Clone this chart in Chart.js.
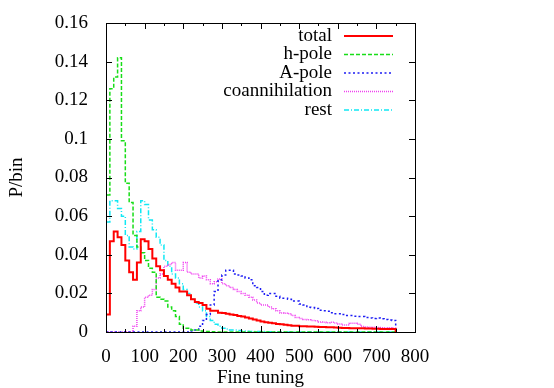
<!DOCTYPE html>
<html>
<head>
<meta charset="utf-8">
<script src="https://cdn.jsdelivr.net/npm/chart.js@4"></script>
<style>
  body { margin: 0; background: #fff; }
  canvas { display: block; }
</style>
</head>
<body>
<canvas id="chart" width="554" height="388"></canvas>
<script>
// Histogram bins: 10 units wide, starting at 0 (75 bins up to 750)
const BIN_WIDTH = 10;

const seriesLabels = ["total", "h-pole", "A-pole", "coannihilation", "rest"];

// P/bin values, one per bin
const total = [
  0.009, 0.047, 0.052, 0.049, 0.045, 0.037, 0.031, 0.027, 0.036, 0.048, 0.047, 0.043, 0.038, 0.034, 0.032,
  0.029, 0.027, 0.025, 0.023, 0.021, 0.021, 0.019, 0.017, 0.0155, 0.015, 0.014, 0.012, 0.011, 0.011, 0.010,
  0.0098, 0.0095, 0.009, 0.0088, 0.0083, 0.008, 0.0075, 0.007, 0.0065, 0.006, 0.0055, 0.005, 0.0048, 0.0045, 0.0042,
  0.004, 0.0038, 0.0035, 0.0033, 0.0032, 0.003, 0.003, 0.0029, 0.0028, 0.0027, 0.0026, 0.0026, 0.0025, 0.0024, 0.0023,
  0.0022, 0.0021, 0.0021, 0.002, 0.002, 0.0019, 0.0019, 0.0018, 0.0018, 0.0017, 0.0017, 0.0016, 0.0016, 0.0016, 0.0015
];
const hPole = [
  0.071, 0.126, 0.132, 0.142, 0.099, 0.077, 0.067, 0.050, 0.044, 0.041, 0.037, 0.033, 0.031, 0.018, 0.017,
  0.016, 0.013, 0.011, 0.008, 0.004, 0.002, 0.002, 0.001, 0.001, 0.0005, 0.0003, 0.0002, 0.0001, 0, 0,
  0, 0, 0, 0, 0, 0, 0, 0, 0, 0, 0, 0, 0, 0, 0,
  0, 0, 0, 0, 0, 0, 0, 0, 0, 0, 0, 0, 0, 0, 0,
  0, 0, 0, 0, 0, 0, 0, 0, 0, 0, 0, 0, 0, 0, 0
];
const aPole = [
  0, 0, 0, 0, 0, 0, 0, 0, 0, 0, 0, 0, 0, 0, 0,
  0, 0, 0, 0, 0, 0, 0, 0.0005, 0.001, 0.003, 0.006, 0.009, 0.014, 0.021, 0.027,
  0.0295, 0.032, 0.032, 0.030, 0.0295, 0.029, 0.028, 0.027, 0.024, 0.023, 0.021, 0.019, 0.020, 0.020, 0.0185,
  0.0175, 0.0175, 0.017, 0.016, 0.016, 0.0145, 0.014, 0.0128, 0.0127, 0.0122, 0.0112, 0.011, 0.0108, 0.010, 0.0095,
  0.0095, 0.009, 0.0085, 0.0085, 0.0082, 0.008, 0.008, 0.0075, 0.0073, 0.007, 0.0072, 0.0068, 0.0065, 0.0062, 0.006
];
const coannihilation = [
  0, 0, 0, 0, 0, 0, 0, 0.003, 0.011, 0.013, 0.018, 0.019, 0.022, 0.028, 0.030,
  0.034, 0.035, 0.036, 0.032, 0.032, 0.036, 0.031, 0.030, 0.030, 0.028, 0.029, 0.027, 0.025, 0.026, 0.0275,
  0.025, 0.024, 0.023, 0.022, 0.021, 0.020, 0.019, 0.018, 0.0166, 0.015, 0.014, 0.014, 0.013, 0.012, 0.011,
  0.0098, 0.0097, 0.0095, 0.0085, 0.0075, 0.007, 0.0065, 0.0063, 0.006, 0.0058, 0.0052, 0.005, 0.0048, 0.005, 0.0047,
  0.0042, 0.0036, 0.0036, 0.0045, 0.0045, 0.004, 0.0028, 0.0026, 0.0025, 0.0024, 0.0023, 0.0022, 0.002, 0.0022, 0.002
];
const rest = [
  0.057, 0.068, 0.068, 0.064, 0.060, 0.050, 0.044, 0.043, 0.052, 0.068, 0.066, 0.058, 0.053, 0.049, 0.045,
  0.037, 0.034, 0.030, 0.028, 0.025, 0.022, 0.020, 0.017, 0.015, 0.013, 0.011, 0.008, 0.006, 0.004, 0.003,
  0.002, 0.0015, 0.001, 0.001, 0.0008, 0.0005, 0.0004, 0.0003, 0.0003, 0.0002, 0.0002, 0.0001, 0.0001, 0.0001, 0,
  0, 0, 0, 0, 0, 0, 0, 0, 0, 0, 0, 0, 0, 0, 0,
  0, 0, 0, 0, 0, 0, 0, 0, 0, 0, 0, 0, 0, 0, 0
];

// Axis ticks
const xTicks = [0, 50, 100, 150, 200, 250, 300, 350, 400, 450, 500, 550, 600, 650, 700, 750, 800];
const yTicks = [0, 0.02, 0.04, 0.06, 0.08, 0.1, 0.12, 0.14, 0.16];

const FONT = { family: '"Liberation Serif", "Times New Roman", serif', size: 19 };

// Turn bin values into step points (rise from 0 at the first edge, drop to 0 at the last)
function histogramPoints(values) {
  const pts = [{ x: 0, y: 0 }];
  values.forEach((v, i) => pts.push({ x: i * BIN_WIDTH, y: v }));
  pts.push({ x: values.length * BIN_WIDTH, y: 0 });
  return pts;
}

// Frame plus inward ticks on all four sides, gnuplot style
const frameTicks = {
  id: "frameTicks",
  afterDatasetsDraw(chart) {
    const { ctx, chartArea: a, scales: { x, y } } = chart;
    ctx.save();
    ctx.strokeStyle = "#000";
    ctx.lineWidth = 1;
    ctx.beginPath();
    xTicks.forEach((v) => {
      const px = Math.round(x.getPixelForValue(v)) + 0.5;
      const len = v % 100 === 0 ? 6 : 3;
      ctx.moveTo(px, a.bottom);
      ctx.lineTo(px, a.bottom - len);
      ctx.moveTo(px, a.top);
      ctx.lineTo(px, a.top + len);
    });
    yTicks.forEach((v) => {
      const py = Math.round(y.getPixelForValue(v)) + 0.5;
      ctx.moveTo(a.left, py);
      ctx.lineTo(a.left + 6, py);
      ctx.moveTo(a.right, py);
      ctx.lineTo(a.right - 6, py);
    });
    ctx.stroke();
    ctx.strokeRect(Math.round(a.left) + 0.5, Math.round(a.top) + 0.5,
      Math.round(a.right - a.left), Math.round(a.bottom - a.top));
    ctx.restore();
  },
};

// Key in the top right: label right-aligned, line sample to its right
const keyBox = {
  id: "keyBox",
  afterDraw(chart) {
    const ctx = chart.ctx;
    const a = chart.chartArea;
    ctx.save();
    ctx.font = FONT.size + "px " + FONT.family;
    ctx.textAlign = "right";
    ctx.textBaseline = "middle";
    chart.data.datasets.forEach((ds, i) => {
      const yy = a.top + 13 + i * 18.5;
      ctx.fillStyle = "#000";
      ctx.fillText(ds.label, a.right - 83, yy);
      ctx.strokeStyle = ds.borderColor;
      ctx.lineWidth = ds.borderWidth;
      ctx.setLineDash(ds.borderDash || []);
      ctx.beginPath();
      ctx.moveTo(a.right - 71, yy);
      ctx.lineTo(a.right - 22, yy);
      ctx.stroke();
    });
    ctx.restore();
  },
};

const seriesValues = [total, hPole, aPole, coannihilation, rest];
const seriesColors = ["#ff0000", "#18dd18", "#1c1cf4", "#f040f0", "#10e8f4"];
const seriesDash = [[], [4, 2], [2, 2.5], [1, 1], [5, 2, 1, 2]];
const seriesWidth = [2, 1.5, 1.5, 1.5, 1.5];

new Chart(document.getElementById("chart"), {
  type: "line",
  data: {
    datasets: seriesLabels.map((label, i) => ({
      label: label,
      data: histogramPoints(seriesValues[i]),
      borderColor: seriesColors[i],
      borderDash: seriesDash[i],
      borderWidth: seriesWidth[i],
      stepped: "before",
      pointRadius: 0,
      fill: false,
    })),
  },
  options: {
    responsive: false,
    animation: false,
    devicePixelRatio: 1,
    layout: { padding: { top: 23, right: 139, left: 0, bottom: 0 } },
    plugins: { legend: { display: false }, tooltip: { enabled: false } },
    scales: {
      x: {
        type: "linear",
        min: 0,
        max: 800,
        grid: { display: false },
        border: { display: false },
        ticks: { stepSize: 100, color: "#000", font: FONT, padding: 6, maxRotation: 0 },
        title: { display: true, text: "Fine tuning", color: "#000", font: { ...FONT, lineHeight: 1 }, padding: 0 },
        afterFit(s) { s.height = 56; },
      },
      y: {
        type: "linear",
        min: 0,
        max: 0.16,
        grid: { display: false },
        border: { display: false },
        ticks: {
          stepSize: 0.02,
          color: "#000",
          font: FONT,
          padding: 10,
          callback: (v) => String(+v.toFixed(2)),
        },
        title: { display: true, text: "P/bin", color: "#000", font: FONT, padding: { top: 6, bottom: 0 } },
        afterFit(s) { s.width = 106; },
      },
    },
  },
  plugins: [frameTicks, keyBox],
});
</script>
</body>
</html>
